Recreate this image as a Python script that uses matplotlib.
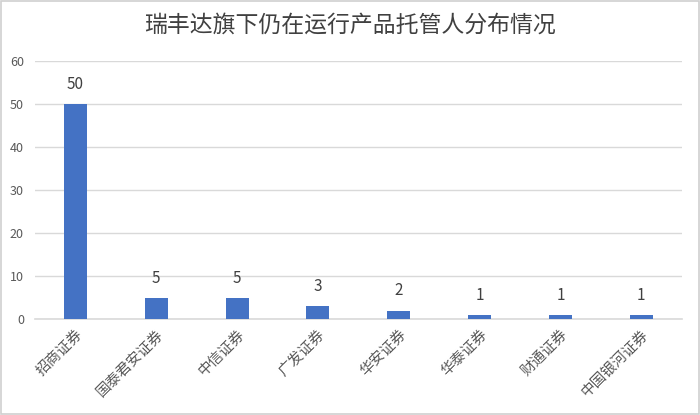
import matplotlib
matplotlib.use("Agg")
import matplotlib.pyplot as plt
from matplotlib.patches import Rectangle

plt.rcParams['font.family'] = ['Noto Sans CJK SC', 'DejaVu Sans']

title = "瑞丰达旗下仍在运行产品托管人分布情况"
categories = ["招商证券", "国泰君安证券", "中信证券", "广发证券", "华安证券", "华泰证券", "财通证券", "中国银河证券"]
values = [50, 5, 5, 3, 2, 1, 1, 1]
yticks = [0, 10, 20, 30, 40, 50, 60]

fig = plt.figure(figsize=(7.0, 4.15), dpi=100)
ax = fig.add_axes([0.05, 0.231, 0.924, 0.622])

x = list(range(len(categories)))
ax.bar(x, values, width=0.285, color="#4472C4", zorder=3)
ax.set_xlim(-0.5, len(categories) - 0.5)
ax.set_ylim(0, 60)
ax.set_yticks(yticks)
ax.set_yticklabels([str(t) for t in yticks], fontsize=9, color="#595959")
ax.grid(axis="y", color="#d9d9d9", linewidth=1, zorder=0)
for s in ["top", "right", "left"]:
    ax.spines[s].set_visible(False)
ax.spines["bottom"].set_color("#d9d9d9")
ax.spines["bottom"].set_linewidth(1.2)
ax.tick_params(axis="both", length=0)
ax.tick_params(axis="y", pad=8)

ax.set_xticks(x)
ax.set_xticklabels(categories, rotation=45, ha="right", rotation_mode="anchor",
                   fontsize=10.5, color="#595959")
ax.tick_params(axis="x", pad=6)

for xi, v in zip(x, values):
    ax.annotate(str(v), (xi, v), xytext=(0, 8), textcoords="offset points",
                ha="center", va="bottom", fontsize=11, color="#404040")

fig.text(0.5, 0.94, title, ha="center", va="center", fontsize=16.5, color="#404040", fontweight="medium")

fig.patches.append(Rectangle((0.001, 0.002), 0.997, 0.995, transform=fig.transFigure,
                             fill=False, edgecolor="#d0d0d0", linewidth=1.2))

fig.savefig("out.png", dpi=100)
